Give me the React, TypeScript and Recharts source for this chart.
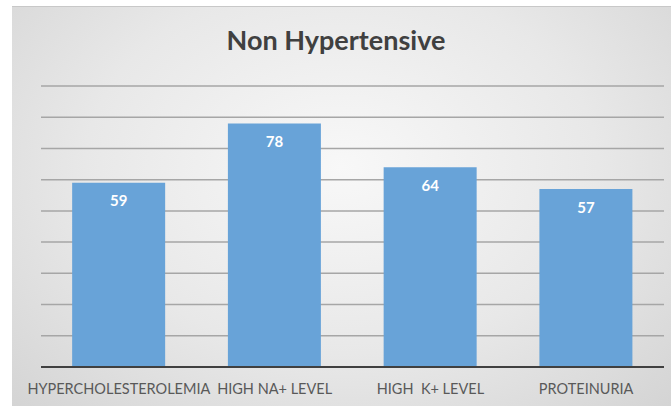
import { BarChart, Bar, XAxis, YAxis, CartesianGrid, LabelList } from "recharts";

const categorias = ["HYPERCHOLESTEROLEMIA", "HIGH NA+ LEVEL", "HIGH\u00a0 K+ LEVEL", "PROTEINURIA"];
const valores = [59, 78, 64, 57];
const ticksY = [0, 10, 20, 30, 40, 50, 60, 70, 80, 90];

const dados = categorias.map((nome, i) => ({ nome, valor: valores[i] }));

const fonte = "Lato, 'Open Sans', sans-serif";

export default function App() {
  return (
    <div style={{ position: "absolute", left: 0, top: 0, width: 671, height: 406, background: "#fff" }}>
      <div
        style={{
          position: "absolute",
          left: 12,
          top: 6,
          width: 659,
          height: 400,
          borderTop: "1px solid #c8c8c8",
          background: "radial-gradient(ellipse at 50% 40%, #f8f8f8 0%, #e8e8e8 55%, #d4d4d4 100%)",
        }}
      />
      <div
        style={{
          position: "absolute",
          left: 12,
          top: 23,
          width: 648,
          textAlign: "center",
          fontFamily: fonte,
          fontWeight: 700,
          fontSize: 27,
          color: "#404040",
        }}
      >
        Non Hypertensive
      </div>
      <div style={{ position: "absolute", left: 0, top: 0 }}>
        <BarChart
          width={671}
          height={406}
          data={dados}
          margin={{ top: 86, right: 7, bottom: 0, left: 41 }}
          barCategoryGap="20%"
        >
          <CartesianGrid vertical={false} stroke="#a6a6a6" strokeWidth={1.5} />
          <YAxis hide domain={[0, 90]} ticks={ticksY} />
          <XAxis
            dataKey="nome"
            height={39}
            interval={0}
            tickLine={false}
            tickMargin={11}
            axisLine={{ stroke: "#404040", strokeWidth: 2 }}
            tick={{ fill: "#595959", fontSize: 14.5, fontFamily: fonte }}
          />
          <Bar dataKey="valor" fill="#68a3d8" isAnimationActive={false}>
            <LabelList
              dataKey="valor"
              position="insideTop"
              offset={13}
              fill="#ffffff"
              fontSize={15}
              fontWeight={700}
              fontFamily={fonte}
            />
          </Bar>
        </BarChart>
      </div>
    </div>
  );
}
